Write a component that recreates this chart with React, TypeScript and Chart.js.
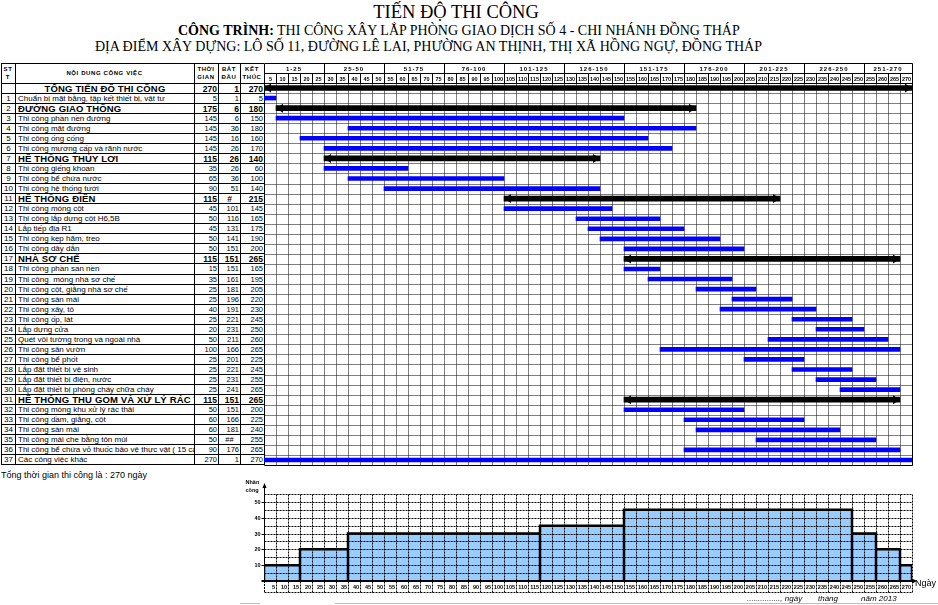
import React, { useEffect, useRef } from "react";
import { Chart, registerables } from "chart.js";

Chart.register(...registerables);

// ---------------- data ----------------
const TITLE = "TIẾN ĐỘ THI CÔNG";
const PROJECT_LABEL = "CÔNG TRÌNH:";
const PROJECT_TEXT = " THI CÔNG XÂY LẮP PHÒNG GIAO DỊCH SỐ 4 - CHI NHÁNH ĐỒNG THÁP";
const LOCATION_TEXT = "ĐỊA ĐIỂM XÂY DỰNG: LÔ SỐ 11, ĐƯỜNG LÊ LAI, PHƯỜNG AN THỊNH, THỊ XÃ HỒNG NGỰ, ĐỒNG THÁP";
const TOTAL_NOTE = "Tổng thời gian thi công là : 270 ngày";

const sttLabels = ["", "1", "2", "3", "4", "5", "6", "7", "8", "9", "10", "11", "12", "13", "14", "15", "16", "17", "18", "19", "20", "21", "22", "23", "24", "25", "26", "27", "28", "29", "30", "31", "32", "33", "34", "35", "36", "37"];

const taskNames = [
  "TỔNG TIẾN ĐỘ THI CÔNG",
  "Chuẩn bị mặt bằng, tập kết thiết bị, vật tư",
  "ĐƯỜNG GIAO THÔNG",
  "Thi công phần nền đường",
  "Thi công mặt đường",
  "Thi công ống cống",
  "Thi công mương cấp và rãnh nước",
  "HỆ THỐNG THỦY LỢI",
  "Thi công giếng khoan",
  "Thi công bể chứa nước",
  "Thi công hệ thống tưới",
  "HỆ THỐNG ĐIỆN",
  "Thi công móng cột",
  "Thi công lắp dựng cột H6,5B",
  "Lắp tiếp địa R1",
  "Thi công kẹp hãm, treo",
  "Thi công dây dẫn",
  "NHÀ SƠ CHẾ",
  "Thi công phần san nền",
  "Thi công  móng nhà sơ chế",
  "Thi công cột, giằng nhà sơ chế",
  "Thi công sàn mái",
  "Thi công xây, tô",
  "Thi công ốp, lát",
  "Lắp dựng cửa",
  "Quét vôi tường trong và ngoài nhà",
  "Thi công sân vườn",
  "Thi công bể phốt",
  "Lắp đặt thiết bị vệ sinh",
  "Lắp đặt thiết bị điện, nước",
  "Lắp đặt thiết bị phòng cháy chữa cháy",
  "HỆ THỐNG THU GOM VÀ XỬ LÝ RÁC THẢI",
  "Thi công móng khu xử lý rác thải",
  "Thi công dầm, giằng, cột",
  "Thi công sàn mái",
  "Thi công mái che bằng tôn múi",
  "Thi công bể chứa vỏ thuốc bảo vệ thực vật ( 15 cái )",
  "Các công việc khác",
];

const groupRows = [0, 2, 7, 11, 17, 31];

const durations = [270, 5, 175, 145, 145, 145, 145, 115, 35, 65, 90, 115, 45, 50, 45, 50, 50, 115, 15, 35, 25, 25, 40, 25, 20, 50, 100, 25, 25, 25, 25, 115, 50, 60, 60, 50, 90, 270];
const startLabels = ["1", "1", "6", "6", "36", "16", "26", "26", "26", "36", "51", "#", "101", "116", "131", "141", "151", "151", "151", "161", "181", "196", "191", "221", "231", "211", "166", "201", "221", "231", "241", "151", "151", "166", "181", "##", "176", "1"];
const endDays = [270, 5, 180, 150, 180, 160, 170, 140, 60, 100, 140, 215, 145, 165, 175, 190, 200, 265, 165, 195, 205, 220, 230, 245, 250, 260, 265, 225, 245, 255, 265, 265, 200, 225, 240, 255, 265, 270];

// bar extents on the time line (day before start -> end day), as drawn
const barFrom = [0, 0, 5, 5, 35, 15, 25, 25, 25, 35, 50, 100, 100, 130, 135, 140, 150, 150, 150, 160, 180, 195, 190, 220, 230, 210, 165, 200, 220, 230, 240, 150, 150, 175, 180, 205, 175, 0];
const barTo = [270, 5, 180, 150, 180, 160, 170, 140, 60, 100, 140, 215, 145, 165, 175, 190, 200, 265, 165, 195, 205, 220, 230, 245, 250, 260, 265, 225, 245, 255, 265, 265, 200, 225, 240, 255, 265, 270];

const periodLabels = ["1-25", "25-50", "51-75", "76-100", "101-125", "126-150", "151-175", "176-200", "201-225", "226-250", "251-270"];
const PERIOD_DAYS = 25;
const TOTAL_DAYS = 270;
const DAY_STEP = 5;

// workforce histogram
const stepStart = [0, 15, 35, 115, 150, 245, 255, 265];
const stepEnd = [15, 35, 115, 150, 245, 255, 265, 270];
const workers = [10, 20, 30, 35, 45, 30, 20, 10];
const WORKER_MAX = 55;
const WORKER_GRID = 5;
const WORKER_LABEL_STEP = 10;

// ---------------- layout ----------------
const SANS = "'Liberation Sans', Arial, sans-serif";
const SERIF = "'Liberation Serif', 'Times New Roman', serif";
const TABLE_TOP = 63;
const BODY_TOP = 83;
const BODY_BOTTOM = 464;
const ROWS = taskNames.length;
const ROW_H = (BODY_BOTTOM - BODY_TOP) / ROWS;
const COL_X = [1, 15, 194, 218, 240, 264];
const GANTT_LEFT = 264;
const GANTT_W = 649;
const HEAD_H = BODY_TOP - TABLE_TOP;

const isGroup = (i: number) => groupRows.includes(i);

const ganttPlugin = {
  id: "ganttGrid",
  beforeDatasetsDraw(chart: any) {
    const { ctx, chartArea: a, scales } = chart;
    const xs = scales.x;
    const ys = scales.y;
    const L = Math.round(a.left) + 0.5;
    const R = Math.round(a.right) + 0.5;
    const T = Math.round(a.top) + 0.5;
    const B = Math.round(a.bottom) + 0.5;
    const HT = Math.round(a.top - HEAD_H) + 0.5;
    const HM = Math.round(a.top - HEAD_H / 2) + 0.5;
    ctx.save();
    ctx.strokeStyle = "#000";
    ctx.lineWidth = 1;
    ctx.setLineDash([1, 1]);
    ctx.beginPath();
    for (let d = DAY_STEP; d < TOTAL_DAYS; d += DAY_STEP) {
      const px = Math.round(xs.getPixelForValue(d)) + 0.5;
      ctx.moveTo(px, T);
      ctx.lineTo(px, B);
    }
    for (let i = 1; i < ROWS; i++) {
      const py = Math.round((ys.getPixelForValue(i - 1) + ys.getPixelForValue(i)) / 2) + 0.5;
      ctx.moveTo(L, py);
      ctx.lineTo(R, py);
    }
    ctx.stroke();
    ctx.setLineDash([]);
    // borders + header grid
    ctx.beginPath();
    ctx.moveTo(L, HT); ctx.lineTo(R, HT);
    ctx.moveTo(L, HM); ctx.lineTo(R, HM);
    ctx.moveTo(L, T); ctx.lineTo(R, T);
    ctx.moveTo(L, B); ctx.lineTo(R, B);
    ctx.moveTo(L, HT); ctx.lineTo(L, B);
    ctx.moveTo(R, HT); ctx.lineTo(R, B);
    for (let d = DAY_STEP; d < TOTAL_DAYS; d += DAY_STEP) {
      const px = Math.round(xs.getPixelForValue(d)) + 0.5;
      const full = d % PERIOD_DAYS === 0;
      ctx.moveTo(px, full ? HT : HM);
      ctx.lineTo(px, T);
    }
    ctx.stroke();
    // header labels
    ctx.fillStyle = "#000";
    ctx.textAlign = "center";
    ctx.textBaseline = "middle";
    ctx.font = `bold 6px ${SANS}`;
    try { (ctx as any).letterSpacing = "1px"; } catch (e) {}
    periodLabels.forEach((lab, g) => {
      const d0 = g * PERIOD_DAYS;
      const d1 = Math.min(TOTAL_DAYS, d0 + PERIOD_DAYS);
      const cx = (xs.getPixelForValue(d0) + xs.getPixelForValue(d1)) / 2;
      ctx.fillText(lab, cx, (HT + HM) / 2 + 0.5);
    });
    try { (ctx as any).letterSpacing = "0px"; } catch (e) {}
    ctx.font = `bold 5.5px ${SANS}`;
    for (let d = DAY_STEP; d <= TOTAL_DAYS; d += DAY_STEP) {
      const cx = (xs.getPixelForValue(d - DAY_STEP) + xs.getPixelForValue(d)) / 2 + 0.5;
      ctx.fillText(String(d), cx, (HM + T) / 2 + 0.5);
    }
    ctx.restore();
  },
  afterDatasetsDraw(chart: any) {
    const { ctx } = chart;
    const meta = chart.getDatasetMeta(1);
    ctx.save();
    ctx.fillStyle = "#000";
    meta.data.forEach((el: any, i: number) => {
      if (!isGroup(i)) return;
      const p = el.getProps(["x", "base", "y"], true);
      const y = p.y;
      const s = Math.min(p.x, p.base);
      const e = Math.max(p.x, p.base);
      ctx.beginPath();
      ctx.moveTo(s, y);
      ctx.lineTo(s + 7, y - 4.5);
      ctx.lineTo(s + 7, y + 4.5);
      ctx.closePath();
      ctx.moveTo(e, y);
      ctx.lineTo(e - 7, y - 4.5);
      ctx.lineTo(e - 7, y + 4.5);
      ctx.closePath();
      ctx.fill();
    });
    ctx.restore();
  },
};

const histPlugin = {
  id: "histGrid",
  beforeDatasetDraw(chart: any, args: any) {
    if (args.index !== 0) return;
    const { ctx, chartArea: a, scales } = chart;
    const xs = scales.x;
    const ys = scales.y;
    const L = Math.round(a.left) + 0.5;
    const R = Math.round(xs.getPixelForValue(TOTAL_DAYS)) + 0.5;
    const topY = Math.round(ys.getPixelForValue(WORKER_MAX)) + 0.5;
    const B = Math.round(a.bottom);
    const labelRow = B + 11.5;
    ctx.save();
    ctx.strokeStyle = "#000";
    ctx.lineWidth = 1;
    ctx.setLineDash([2, 1]);
    ctx.beginPath();
    for (let v = WORKER_GRID; v <= WORKER_MAX; v += WORKER_GRID) {
      const py = Math.round(ys.getPixelForValue(v)) + 0.5;
      ctx.moveTo(L, py);
      ctx.lineTo(R, py);
    }
    for (let d = DAY_STEP; d <= TOTAL_DAYS; d += DAY_STEP) {
      const px = Math.round(xs.getPixelForValue(d)) + 0.5;
      ctx.moveTo(px, topY);
      ctx.lineTo(px, labelRow);
    }
    ctx.moveTo(L, labelRow);
    ctx.lineTo(R, labelRow);
    ctx.moveTo(L, B);
    ctx.lineTo(L, labelRow);
    ctx.stroke();
    ctx.restore();
  },
  afterDatasetsDraw(chart: any) {
    const { ctx, chartArea: a, scales } = chart;
    const xs = scales.x;
    const ys = scales.y;
    const L = Math.round(a.left) + 0.5;
    const B = Math.round(a.bottom);
    const R = Math.round(xs.getPixelForValue(TOTAL_DAYS));
    ctx.save();
    ctx.strokeStyle = "#000";
    ctx.fillStyle = "#000";
    // y axis
    ctx.lineWidth = 1;
    ctx.beginPath();
    ctx.moveTo(L, B);
    ctx.lineTo(L, a.top - 8);
    ctx.stroke();
    ctx.beginPath();
    ctx.moveTo(L, a.top - 11);
    ctx.lineTo(L - 2, a.top - 6);
    ctx.lineTo(L + 2, a.top - 6);
    ctx.closePath();
    ctx.fill();
    // x axis
    ctx.lineWidth = 2;
    ctx.beginPath();
    ctx.moveTo(L - 3, B);
    ctx.lineTo(R + 2, B);
    ctx.stroke();
    ctx.beginPath();
    ctx.moveTo(R + 5, B);
    ctx.lineTo(R + 1, B - 2);
    ctx.lineTo(R + 1, B + 2);
    ctx.closePath();
    ctx.fill();
    // y labels + ticks
    ctx.lineWidth = 1;
    ctx.font = `bold 5.5px ${SANS}`;
    ctx.textAlign = "right";
    ctx.textBaseline = "middle";
    for (let v = WORKER_LABEL_STEP; v < WORKER_MAX; v += WORKER_LABEL_STEP) {
      const py = Math.round(ys.getPixelForValue(v)) + 0.5;
      ctx.fillText(String(v), L - 4, py);
      ctx.beginPath();
      ctx.moveTo(L - 3, py);
      ctx.lineTo(L, py);
      ctx.stroke();
    }
    // axis title
    ctx.textAlign = "left";
    ctx.fillText("Nhân", L - 19, a.top - 12);
    ctx.fillText("công", L - 19, a.top - 4);
    // x labels
    ctx.textAlign = "right";
    for (let d = DAY_STEP; d <= TOTAL_DAYS; d += DAY_STEP) {
      const px = Math.round(xs.getPixelForValue(d));
      ctx.fillText(String(d), px - 1, B + 6.5);
    }
    ctx.restore();
  },
};

function cellBase(i: number): React.CSSProperties {
  return {
    position: "absolute",
    top: BODY_TOP + i * ROW_H + 1,
    height: ROW_H,
    lineHeight: `${ROW_H}px`,
    whiteSpace: "pre",
    overflow: "hidden",
    boxSizing: "border-box",
    color: "#000",
  };
}

export default function App() {
  const ganttRef = useRef<HTMLCanvasElement>(null);
  const histRef = useRef<HTMLCanvasElement>(null);

  useEffect(() => {
    const labels = taskNames.map((_, i) => String(i));
    const taskBars = taskNames.map((_, i) => (isGroup(i) ? null : [barFrom[i], barTo[i]]));
    const groupBars = taskNames.map((_, i) => (isGroup(i) ? [barFrom[i], barTo[i]] : null));
    const gantt = new Chart(ganttRef.current as HTMLCanvasElement, {
      type: "bar",
      data: {
        labels,
        datasets: [
          { data: taskBars as any, backgroundColor: "#0000ff", barThickness: 4, grouped: false, borderWidth: 0 } as any,
          { data: groupBars as any, backgroundColor: "#000000", barThickness: 5, grouped: false, borderWidth: 0 } as any,
        ],
      },
      options: {
        indexAxis: "y",
        responsive: false,
        animation: false,
        events: [],
        layout: { padding: { top: HEAD_H, right: 1, bottom: 1, left: 0 } },
        scales: {
          x: { type: "linear", min: 0, max: TOTAL_DAYS, display: false },
          y: { type: "category", display: false },
        },
        plugins: { legend: { display: false }, tooltip: { enabled: false } },
      },
      plugins: [ganttPlugin],
    });

    const outline: { x: number; y: number }[] = [];
    stepStart.forEach((s, i) => {
      outline.push({ x: s, y: 0 }, { x: s, y: workers[i] }, { x: stepEnd[i], y: workers[i] }, { x: stepEnd[i], y: 0 });
    });
    const hist = new Chart(histRef.current as HTMLCanvasElement, {
      type: "line",
      data: {
        datasets: [
          { data: outline, borderColor: "#000", borderWidth: 2.5, pointRadius: 0, fill: false, tension: 0, borderJoinStyle: "miter" } as any,
          { data: outline, borderWidth: 0, borderColor: "rgba(0,0,0,0)", backgroundColor: "#99ccff", pointRadius: 0, fill: "origin", tension: 0 } as any,
        ],
      },
      options: {
        responsive: false,
        animation: false,
        events: [],
        layout: { padding: { top: 24, right: 26, bottom: 24, left: 34 } },
        scales: {
          x: { type: "linear", min: 0, max: TOTAL_DAYS, display: false },
          y: { type: "linear", min: 0, max: WORKER_MAX, display: false },
        },
        plugins: { legend: { display: false }, tooltip: { enabled: false } },
      },
      plugins: [histPlugin],
    });
    return () => {
      gantt.destroy();
      hist.destroy();
    };
  }, []);

  const hLines: React.ReactNode[] = [];
  hLines.push(<div key="ht" style={{ position: "absolute", left: COL_X[0], top: TABLE_TOP, width: GANTT_LEFT - COL_X[0], height: 1, background: "#000" }} />);
  for (let i = 0; i <= ROWS; i++) {
    hLines.push(
      <div key={"h" + i} style={{ position: "absolute", left: COL_X[0], top: Math.round(BODY_TOP + i * ROW_H), width: GANTT_LEFT - COL_X[0], height: 1, background: "#000" }} />
    );
  }
  const vLines = COL_X.slice(0, 5).map((x, k) => (
    <div key={"v" + k} style={{ position: "absolute", left: x, top: TABLE_TOP, width: 1, height: BODY_BOTTOM - TABLE_TOP + 1, background: "#000" }} />
  ));

  const headStyle: React.CSSProperties = {
    position: "absolute",
    fontFamily: SANS,
    fontWeight: "bold",
    fontSize: 6,
    lineHeight: "8px",
    textAlign: "center",
    letterSpacing: "0.6px",
    color: "#000",
  };

  const numW = (k: number) => COL_X[k + 1] - COL_X[k] - 1;

  return (
    <div style={{ position: "absolute", left: 0, top: 0, width: 938, height: 605, background: "#fff", overflow: "hidden", fontFamily: SANS, color: "#000" }}>
      {/* titles */}
      <div style={{ position: "absolute", left: 0, width: 912, top: 1, textAlign: "center", fontFamily: SERIF, fontSize: 18.5, lineHeight: "22px" }}>{TITLE}</div>
      <div style={{ position: "absolute", left: 178, top: 23, fontFamily: SERIF, fontSize: 14, lineHeight: "16px", whiteSpace: "pre" }}>
        <b>{PROJECT_LABEL}</b>
        {PROJECT_TEXT}
      </div>
      <div style={{ position: "absolute", left: 95, top: 39, fontFamily: SERIF, fontSize: 14, lineHeight: "16px", whiteSpace: "pre" }}>{LOCATION_TEXT}</div>

      {/* table header */}
      <div style={{ ...headStyle, left: COL_X[0], width: 14, top: 65 }}>ST<br />T</div>
      <div style={{ ...headStyle, left: COL_X[1], width: COL_X[2] - COL_X[1], top: 69 }}>NỘI DUNG CÔNG VIỆC</div>
      <div style={{ ...headStyle, left: COL_X[2], width: numW(2) + 1, top: 65 }}>THỜI<br />GIAN</div>
      <div style={{ ...headStyle, left: COL_X[3], width: numW(3) + 1, top: 65 }}>BẮT<br />ĐẦU</div>
      <div style={{ ...headStyle, left: COL_X[4], width: numW(4) + 1, top: 65 }}>KẾT<br />THÚC</div>

      {/* table body */}
      {taskNames.map((name, i) => {
        const g = isGroup(i);
        const base = cellBase(i);
        const nameFont = g ? { fontSize: 9.5, fontWeight: "bold" as const, letterSpacing: "0.15px" } : { fontSize: 8 };
        const numFont = g ? { fontSize: 8.5, fontWeight: "bold" as const } : { fontSize: 7.5 };
        const hashed = startLabels[i].startsWith("#");
        return (
          <React.Fragment key={i}>
            <div style={{ ...base, left: COL_X[0] + 1, width: COL_X[1] - COL_X[0] - 1, textAlign: "center", fontSize: 8 }}>{sttLabels[i]}</div>
            <div style={{ ...base, left: COL_X[1] + 1, width: COL_X[2] - COL_X[1] - 1, paddingLeft: i === 0 ? 0 : 2, textAlign: i === 0 ? "center" : "left", ...nameFont }}>{name}</div>
            <div style={{ ...base, left: COL_X[2] + 1, width: numW(2), paddingRight: 1, textAlign: "right", ...numFont }}>{durations[i]}</div>
            <div style={{ ...base, left: COL_X[3] + 1, width: numW(3), paddingRight: hashed ? 0 : 1, textAlign: hashed ? "center" : "right", ...numFont }}>{startLabels[i]}</div>
            <div style={{ ...base, left: COL_X[4] + 1, width: numW(4), paddingRight: 1, textAlign: "right", ...numFont }}>{endDays[i]}</div>
          </React.Fragment>
        );
      })}
      {hLines}
      {vLines}

      <canvas ref={ganttRef} width={GANTT_W} height={BODY_BOTTOM - TABLE_TOP + 2} style={{ position: "absolute", left: GANTT_LEFT, top: TABLE_TOP, width: GANTT_W, height: BODY_BOTTOM - TABLE_TOP + 2 }} />

      <div style={{ position: "absolute", left: 1, top: 469, fontSize: 9, lineHeight: "12px", whiteSpace: "pre" }}>{TOTAL_NOTE}</div>

      <canvas ref={histRef} width={708} height={135} style={{ position: "absolute", left: 230, top: 470, width: 708, height: 135 }} />

      <div style={{ position: "absolute", left: 915, top: 577, fontSize: 9, lineHeight: "12px" }}>Ngày</div>
      <div style={{ position: "absolute", left: 747, top: 593, fontSize: 8, fontStyle: "italic", lineHeight: "11px", whiteSpace: "pre" }}>..............., ngày</div>
      <div style={{ position: "absolute", left: 818, top: 593, fontSize: 8, fontStyle: "italic", lineHeight: "11px", whiteSpace: "pre" }}>tháng</div>
      <div style={{ position: "absolute", left: 861, top: 593, fontSize: 8, fontStyle: "italic", lineHeight: "11px", whiteSpace: "pre" }}>năm 2013</div>
      <div style={{ position: "absolute", left: 240, top: 603, width: 20, height: 1, background: "#a9bfe6" }} />
      <div style={{ position: "absolute", left: 335, top: 603, width: 603, height: 1, background: "#a9bfe6" }} />
    </div>
  );
}
